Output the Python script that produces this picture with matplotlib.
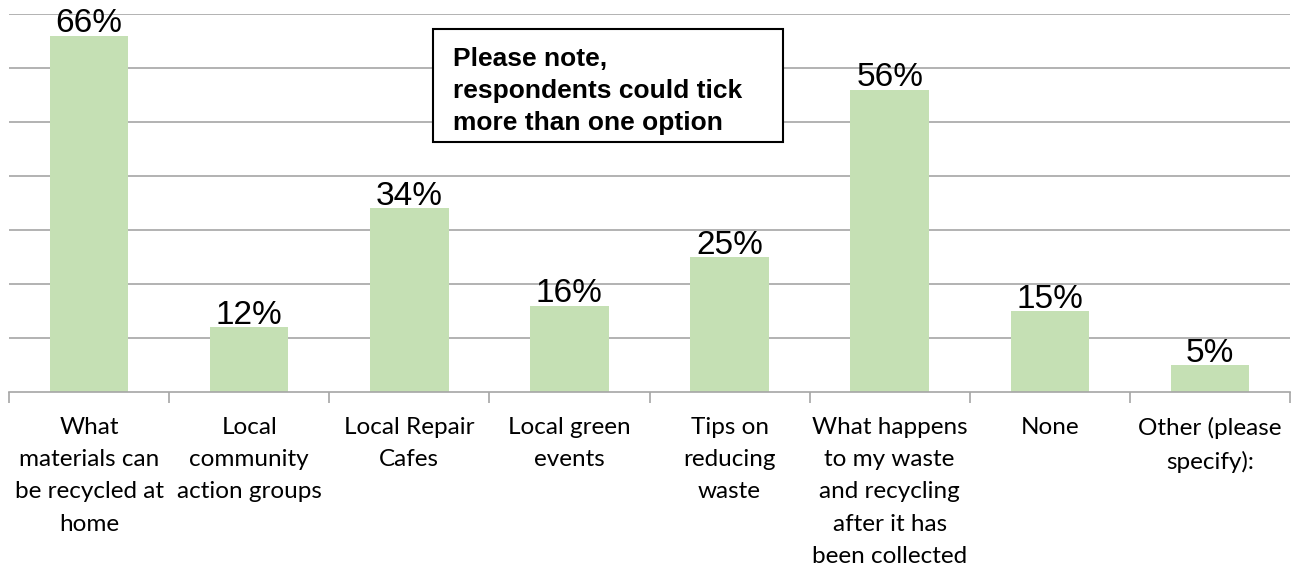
import matplotlib
matplotlib.use("Agg")
import matplotlib.pyplot as plt
from matplotlib.patches import Rectangle
import numpy as np

categories = [
    "What\nmaterials can\nbe recycled at\nhome",
    "Local\ncommunity\naction groups",
    "Local Repair\nCafes",
    "Local green\nevents",
    "Tips on\nreducing\nwaste",
    "What happens\nto my waste\nand recycling\nafter it has\nbeen collected",
    "None",
    "Other (please\nspecify):",
]
values = [66, 12, 34, 16, 25, 56, 15, 5]
value_labels = ["66%", "12%", "34%", "16%", "25%", "56%", "15%", "5%"]
note_text = "Please note,\nrespondents could tick\nmore than one option"

W, H = 1296, 567
fig = plt.figure(figsize=(W / 100, H / 100), dpi=100)
left, right = 9 / W, 1290 / W
bottom, top = 1 - 392 / H, 1 - 14 / H
ax = fig.add_axes([left, bottom, right - left, top - bottom])

x = np.arange(len(values))
ax.bar(x, values, width=0.49, color="#C5E0B4", zorder=2)
ax.set_xlim(-0.5, len(values) - 0.5)
ax.set_ylim(0, 70)

ax.set_yticks(np.arange(10, 71, 10))
ax.yaxis.grid(True, color="#A6A6A6", linewidth=1.2, zorder=0)
ax.tick_params(axis="y", left=False, labelleft=False)

for s in ["top", "right", "left"]:
    ax.spines[s].set_visible(False)
ax.spines["bottom"].set_color("#A6A6A6")
ax.spines["bottom"].set_linewidth(1.2)

ax.set_xticks(x)
ax.set_xticklabels(categories, fontsize=17.5, family=["Lato", "DejaVu Sans"],
                   linespacing=1.66, color="#000000")
ax.tick_params(axis="x", which="major", length=0, pad=18)
ax.set_xticks(np.arange(-0.5, len(values), 1.0), minor=True)
ax.tick_params(axis="x", which="minor", length=8, width=1.2, color="#A6A6A6")

for xi, v, lab in zip(x, values, value_labels):
    ax.annotate(lab, (xi, v), xytext=(0, 2.5), textcoords="offset points",
                ha="center", va="baseline", fontsize=24,
                family=["Liberation Sans", "DejaVu Sans"], color="#000000", zorder=3)

# note box
bx0, bx1 = 433 / W, 783 / W
by_top, by_bot = 1 - 29 / H, 1 - 142 / H
fig.patches.append(Rectangle((bx0, by_bot), bx1 - bx0, by_top - by_bot,
                             transform=fig.transFigure, facecolor="white",
                             edgecolor="black", linewidth=1.5, zorder=5))
fig.text(453 / W, 1 - 47 / H, note_text, ha="left", va="top", fontsize=19,
         fontweight="bold", family=["Liberation Sans", "DejaVu Sans"],
         linespacing=1.42, zorder=6)

fig.savefig("out.png", dpi=100)
